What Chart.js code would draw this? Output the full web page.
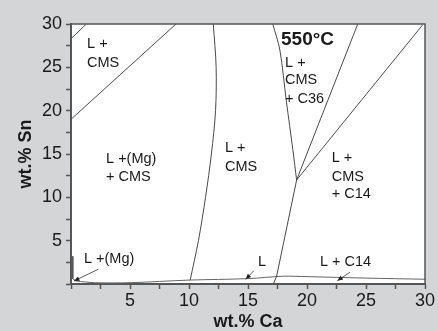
<!DOCTYPE html>
<html>
<head>
<meta charset="utf-8">
<script src="https://cdn.jsdelivr.net/npm/chart.js@4.4.1/dist/chart.umd.min.js"></script>
<style>
  html, body { margin: 0; padding: 0; background: #d4d5d6; }
  #wrap { width: 438px; height: 331px; }
</style>
</head>
<body>
<div id="wrap"><canvas id="phaseChart" width="438" height="331"></canvas></div>
<script>
// phase boundaries, wt.% Ca (x) vs wt.% Sn (y)
const cornerCa = [0, 1.3];
const cornerSn = [28.3, 30];
const cmsUpperCa = [0, 8.9];
const cmsUpperSn = [19, 30];
const mgCmsCa = [12.06, 12.3, 12.25, 11.9, 11.4, 10.8, 10.1];
const mgCmsSn = [30, 25, 20, 15, 10, 5, 0.45];
const c36LeftCa = [17.1, 17.7, 18.25, 18.8, 19.12];
const c36LeftSn = [30, 27, 21.1, 15.5, 12];
const c36RightCa = [24.3, 19.12];
const c36RightSn = [30, 12];
const c14UpperCa = [29.8, 19.12];
const c14UpperSn = [29.9, 12];
const c14LeftCa = [19.12, 17.43, 17.15];
const c14LeftSn = [12, 0.92, 0];
const mgEdgeCa = [0.15, 0.15, 0.4];
const mgEdgeSn = [3.2, 0.6, 0.35];
const liquidusCa = [0.4, 2, 5, 10, 15, 18, 20, 25, 30];
const liquidusSn = [0.35, 0.15, 0.15, 0.45, 0.62, 0.9, 0.85, 0.68, 0.55];

const xTicks = [5, 10, 15, 20, 25, 30];
const yTicks = [5, 10, 15, 20, 25, 30];

// region labels (text, Ca, Sn)
const regionText = ['L +', 'CMS', 'L +(Mg)', '+ CMS', 'L +', 'CMS', 'L +', 'CMS', '+ C36',
                    'L +', 'CMS', '+ C14', 'L +(Mg)', 'L', 'L + C14'];
const regionCa = [1.36, 1.36, 2.97, 2.97, 13.05, 13.05, 18.14, 18.14, 18.14,
                  22.1, 22.1, 22.1, 1.1, 15.85, 21.1];
const regionSn = [27.7, 25.5, 14.4, 12.35, 15.7, 13.5, 25.5, 23.5, 21.35,
                  14.5, 12.35, 10.4, 2.9, 2.55, 2.55];

// arrows from label to boundary
const arrowFromCa = [2.31, 15.5, 23.64];
const arrowFromSn = [1.7, 1.53, 1.35];
const arrowToCa = [0.25, 14.8, 22.57];
const arrowToSn = [0.35, 0.54, 0.38];

function pts(xs, ys) {
    return xs.map((x, i) => ({ x: x, y: ys[i] }));
}

function boundary(xs, ys, tension, color) {
    return {
        data: pts(xs, ys),
        showLine: true,
        borderColor: color || '#4a4a4a',
        borderWidth: 1,
        pointRadius: 0,
        tension: tension || 0
    };
}

const decorPlugin = {
    id: 'decor',
    beforeDraw(chart) {
        const { ctx, chartArea: a } = chart;
        ctx.save();
        ctx.fillStyle = '#d4d5d6';
        ctx.fillRect(0, 0, chart.width, chart.height);
        ctx.fillStyle = '#ffffff';
        ctx.fillRect(a.left, a.top, a.right - a.left, a.bottom - a.top);
        ctx.restore();
    },
    afterDraw(chart) {
        const { ctx, chartArea: a } = chart;
        const xs = chart.scales.x, ys = chart.scales.y;
        ctx.save();
        // top and right frame
        ctx.strokeStyle = '#555';
        ctx.lineWidth = 1.5;
        ctx.beginPath();
        ctx.moveTo(a.left, a.top);
        ctx.lineTo(a.right, a.top);
        ctx.lineTo(a.right, a.bottom);
        ctx.stroke();

        // region labels
        ctx.fillStyle = '#1a1a1a';
        ctx.font = '14.5px "Liberation Sans", Arial, sans-serif';
        ctx.textBaseline = 'middle';
        ctx.textAlign = 'left';
        regionText.forEach((t, i) => {
            ctx.fillText(t, xs.getPixelForValue(regionCa[i]), ys.getPixelForValue(regionSn[i]));
        });
        ctx.font = 'bold 19px "Liberation Sans", Arial, sans-serif';
        ctx.fillText('550°C', xs.getPixelForValue(17.8), ys.getPixelForValue(28.15));

        // arrows
        ctx.strokeStyle = '#333';
        ctx.fillStyle = '#222';
        ctx.lineWidth = 0.8;
        arrowFromCa.forEach((_, i) => {
            const x1 = xs.getPixelForValue(arrowFromCa[i]), y1 = ys.getPixelForValue(arrowFromSn[i]);
            const x2 = xs.getPixelForValue(arrowToCa[i]), y2 = ys.getPixelForValue(arrowToSn[i]);
            const ang = Math.atan2(y2 - y1, x2 - x1);
            ctx.beginPath();
            ctx.moveTo(x1, y1);
            ctx.lineTo(x2, y2);
            ctx.stroke();
            ctx.beginPath();
            ctx.moveTo(x2, y2);
            ctx.lineTo(x2 - 6 * Math.cos(ang - 0.4), y2 - 6 * Math.sin(ang - 0.4));
            ctx.lineTo(x2 - 6 * Math.cos(ang + 0.4), y2 - 6 * Math.sin(ang + 0.4));
            ctx.closePath();
            ctx.fill();
        });

        // axis titles
        ctx.fillStyle = '#1a1a1a';
        ctx.font = 'bold 18px "Liberation Sans", Arial, sans-serif';
        ctx.textAlign = 'center';
        ctx.fillText('wt.% Ca', (a.left + a.right) / 2, 322);
        ctx.translate(26, (a.top + a.bottom) / 2);
        ctx.rotate(-Math.PI / 2);
        ctx.fillText('wt.% Sn', 0, 0);
        ctx.restore();
    }
};

const tickFont = { family: '"Liberation Sans", Arial, sans-serif', size: 18 };

new Chart(document.getElementById('phaseChart').getContext('2d'), {
    type: 'scatter',
    data: {
        datasets: [
            boundary(cornerCa, cornerSn),
            boundary(cmsUpperCa, cmsUpperSn),
            boundary(mgCmsCa, mgCmsSn, 0.3),
            boundary(c36LeftCa, c36LeftSn, 0.3),
            boundary(c36RightCa, c36RightSn),
            boundary(c14UpperCa, c14UpperSn),
            boundary(c14LeftCa, c14LeftSn),
            boundary(mgEdgeCa, mgEdgeSn, 0, '#555'),
            boundary(liquidusCa, liquidusSn, 0.3, '#666')
        ]
    },
    options: {
        responsive: false,
        animation: false,
        layout: { padding: { top: 24, right: 13, left: 0, bottom: 0 } },
        plugins: { legend: { display: false }, tooltip: { enabled: false } },
        scales: {
            x: {
                type: 'linear', min: 0, max: 30,
                afterFit: s => { s.height = 47; },
                afterBuildTicks: s => { s.ticks = [0, 2.5, 5, 7.5, 10, 12.5, 15, 17.5, 20, 22.5, 25, 27.5, 30].map(v => ({ value: v })); },
                grid: { drawOnChartArea: false, tickLength: 5, tickColor: '#555', tickWidth: 1.5 },
                border: { color: '#555', width: 2 },
                ticks: {
                    autoSkip: false, maxRotation: 0, padding: 1, color: '#1a1a1a', font: tickFont,
                    callback: v => xTicks.includes(v) ? String(v) : ''
                }
            },
            y: {
                type: 'linear', min: 0, max: 30,
                afterFit: s => { s.width = 71; },
                afterBuildTicks: s => { s.ticks = [0, 2.5, 5, 7.5, 10, 12.5, 15, 17.5, 20, 22.5, 25, 27.5, 30].map(v => ({ value: v })); },
                grid: { drawOnChartArea: false, tickLength: 5, tickColor: '#555', tickWidth: 1.5 },
                border: { color: '#555', width: 2 },
                ticks: {
                    autoSkip: false, padding: 4, color: '#1a1a1a', font: tickFont,
                    callback: v => yTicks.includes(v) ? String(v) : ''
                }
            }
        }
    },
    plugins: [decorPlugin]
});
</script>
</body>
</html>
